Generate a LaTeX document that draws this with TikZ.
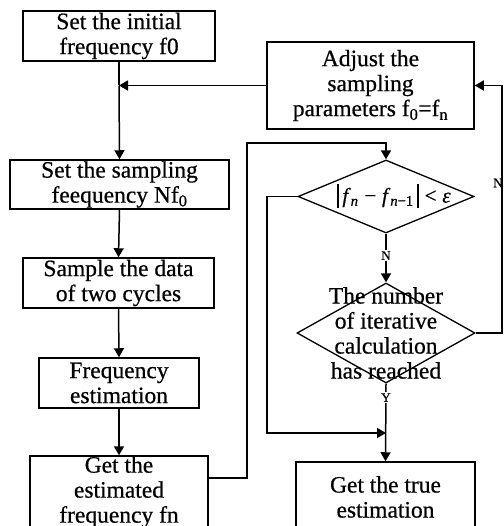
\documentclass[tikz,border=0pt]{standalone}
\usepackage{fontspec}
\setmainfont{Liberation Serif}[FakeBold=0.6]
\usetikzlibrary{arrows.meta,shapes.geometric,calc}
% tall absolute-value bar for the convergence test
\newcommand{\absbar}{\rule[-0.26em]{1.5pt}{1.15em}}

\begin{document}
\begin{tikzpicture}[x=1pt,y=-1pt,
  every node/.style={font=\fontsize{23.5}{25}\selectfont},
  box/.style={draw, line width=1.5pt, align=center, inner sep=0pt},
  dia/.style={draw, diamond, line width=1.3pt, inner sep=0pt},
  flow/.style={line width=1.5pt, -{Triangle[width=10pt,length=9pt]}},
  yn/.style={font=\fontsize{13}{14}\selectfont, fill=white, inner sep=1pt}
]
\useasboundingbox (0,0) rectangle (503,526);

% left column of process steps
\node[box, minimum width=192pt, minimum height=50pt] (b1) at (119,36)
  {Set the initial\\frequency f0};
\node[box, minimum width=219pt, minimum height=49pt] (b2) at (119.5,184.5)
  {Set the sampling\\feequency Nf\textsubscript{0}};
\node[box, minimum width=191pt, minimum height=50pt] (b3) at (118.5,283)
  {Sample the data\\of two cycles};
\node[box, minimum width=160pt, minimum height=50pt] (b4) at (119,383)
  {Frequency\\estimation};
\node[box, minimum width=178pt, minimum height=72pt] (b5) at (119,492)
  {Get the\\estimated\\frequency fn};

% parameter update box
\node[box, minimum width=207pt, minimum height=87pt] (adj) at (370.5,85.5)
  {Adjust the\\sampling\\parameters f\textsubscript{0}=f\textsubscript{n}};

% decisions
\node[dia, minimum width=176pt, minimum height=73pt] (d1) at (386,196.5) {};
\node[inner sep=0pt] (d1t) at (394,196)
  {\fontsize{21}{25}\selectfont\absbar\,\textit{f}\textsubscript{\textit{n}}\;−\;\textit{f}\textsubscript{\textit{n}−1}\,\absbar\;<\;\textit{ε}};
\node[dia, minimum width=178pt, minimum height=100pt] (d2) at (386,333) {};
\node[align=center, inner sep=0pt] (d2t) at (d2.center)
  {The number\\of iterative\\calculation\\has reached};

% result box
\node[box, minimum width=179pt, minimum height=70pt] (b6) at (385.5,497)
  {Get the true\\estimation};

% helper points for the routed connectors
\coordinate (j1) at (b1.south |- adj.west);
\coordinate (c1) at (247,143);
\coordinate (c2) at (267,433);
\coordinate (c3) at (d2.south |- c2);
\coordinate (c4) at (502,333);

% connectors
\draw[line width=1.5pt] (b1.south) -- (j1);
\draw[flow] (j1) -- (b2.north);
\draw[flow] (adj.west) -- (j1);
\draw[flow] (b2.south) -- (b3.north);
\draw[flow] (b3.south) -- (b4.north);
\draw[flow] (b4.south) -- (b5.north);
\draw[flow] ([yshift=14pt]b5.east) -| (c1) -| (d1.north);
\draw[flow] (d1.south) -- node[yn, pos=0.45] {N} (d2.north);
\draw[flow] (d1.west) -| (c2) -- (c3);
\draw[flow] (d2.south) -- node[yn, pos=0.18] {Y} (b6.north);
\draw[flow] (d2.east) -- (c4) |- (adj.east);
\node[yn, fill=none] (nr) at (498,183) {N};
\end{tikzpicture}
\end{document}
